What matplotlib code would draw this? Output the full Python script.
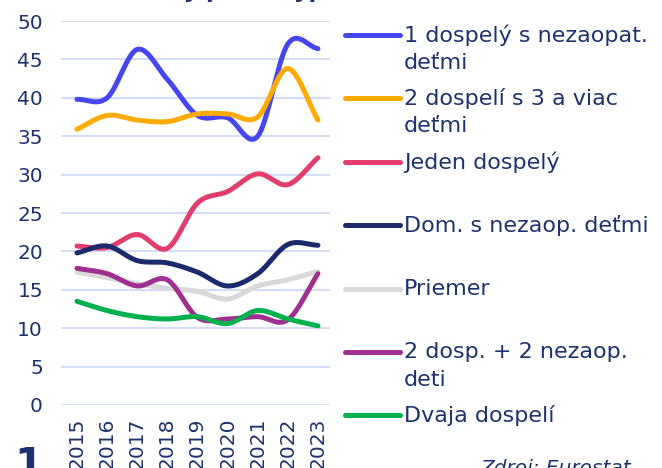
"""Household poverty-rate lines 2015-2023 with a hand-placed legend on the right."""
import matplotlib
matplotlib.use("Agg")
import matplotlib.pyplot as plt          # noqa: E402
import numpy as np                       # noqa: E402
from matplotlib.lines import Line2D      # noqa: E402

years = ["2015", "2016", "2017", "2018", "2019", "2020", "2021", "2022", "2023"]

labels = [
    "1 dospelý s nezaopat.\ndeťmi",
    "2 dospelí s 3 a viac\ndeťmi",
    "Jeden dospelý",
    "Dom. s nezaop. deťmi",
    "Priemer",
    "2 dosp. + 2 nezaop.\ndeti",
    "Dvaja dospelí",
]
colors = ["#4646F0", "#FFAA00", "#E23D6E", "#1B2A6B", "#D9D9D9", "#A0308F", "#00B04F"]

one_adult_kids = [39.8, 40.0, 46.3, 42.4, 37.7, 37.4, 35.0, 47.0, 46.4]
two_adults_3kids = [35.9, 37.7, 37.1, 36.9, 37.9, 37.9, 37.5, 43.8, 37.1]
one_adult = [20.7, 20.5, 22.2, 20.4, 26.3, 27.8, 30.1, 28.7, 32.2]
hh_with_kids = [19.8, 20.7, 18.8, 18.5, 17.3, 15.5, 17.1, 20.9, 20.8]
average = [17.3, 16.6, 15.8, 15.2, 14.8, 13.8, 15.5, 16.3, 17.4]
two_adults_2kids = [17.8, 17.1, 15.5, 16.3, 11.4, 11.2, 11.5, 11.1, 17.1]
two_adults = [13.5, 12.3, 11.5, 11.2, 11.5, 10.6, 12.3, 11.2, 10.3]

series = [one_adult_kids, two_adults_3kids, one_adult, hh_with_kids,
          average, two_adults_2kids, two_adults]

NAVY = "#1F3270"
W, H = 662, 468


def _smooth(y, n=30):
    """Catmull-Rom curve through the points (display only)."""
    y = np.asarray(y, float)
    x = np.arange(len(y), dtype=float)
    m = np.gradient(y)
    xs, ys = [], []
    for i in range(len(y) - 1):
        t = np.linspace(0, 1, n, endpoint=False)
        h00 = 2 * t**3 - 3 * t**2 + 1
        h10 = t**3 - 2 * t**2 + t
        h01 = -2 * t**3 + 3 * t**2
        h11 = t**3 - t**2
        xs.append(x[i] + t)
        ys.append(h00 * y[i] + h10 * m[i] + h01 * y[i + 1] + h11 * m[i + 1])
    xs.append([x[-1]])
    ys.append([y[-1]])
    return np.concatenate(xs), np.concatenate(ys)


plt.rcParams["font.family"] = ["DejaVu Sans"]

fig = plt.figure(figsize=(W / 100, H / 100), dpi=100)
ax = fig.add_axes([61 / W, 1 - 405 / H, 269 / W, 384 / H])

x = np.arange(len(years))
for vals, col in zip(series, colors):
    sx, sy = _smooth(vals)
    ax.plot(sx, sy, color=col, lw=3.6, solid_capstyle="round",
            solid_joinstyle="round", clip_on=False)

ax.set_xlim(-0.53, 8.4)
ax.set_ylim(0, 50)
ax.set_yticks(range(0, 51, 5))
ax.set_xticks(x)
ax.set_xticklabels(years, rotation=90)
ax.yaxis.grid(True, color="#D5DCF5", lw=1.5)
ax.set_axisbelow(True)
for s in ax.spines.values():
    s.set_visible(False)
ax.tick_params(length=0, labelsize=14.5, labelcolor=NAVY)
ax.tick_params(axis="y", pad=13)
ax.tick_params(axis="x", pad=9)

# legend, drawn by hand: line handle + label, evenly spaced
for i, (lab, col) in enumerate(zip(labels, colors)):
    ypx = 35 + i * 63.4
    fig.add_artist(Line2D([345 / W, 400 / W], [1 - ypx / H] * 2, color=col,
                          lw=3.6, solid_capstyle="round"))
    for k, line in enumerate(lab.split("\n")):
        fig.text(404 / W, 1 - (ypx + k * 28) / H, line, fontsize=16,
                 color=NAVY, va="center", ha="left")

# cropped title / footer pieces
fig.text(15 / W, 1 + 2 / H, "Miera chudoby podľa typu domácnosti",
         fontsize=16, fontweight="bold", fontstyle="italic", color=NAVY,
         va="baseline")
fig.text(14 / W, -10 / H, "1", fontsize=30, fontweight="bold", color=NAVY,
         va="baseline")
fig.text(480 / W, -6 / H, "Zdroj: Eurostat", fontsize=14.5, fontstyle="italic",
         color=NAVY, va="baseline")

fig.savefig("out.png", dpi=100)
